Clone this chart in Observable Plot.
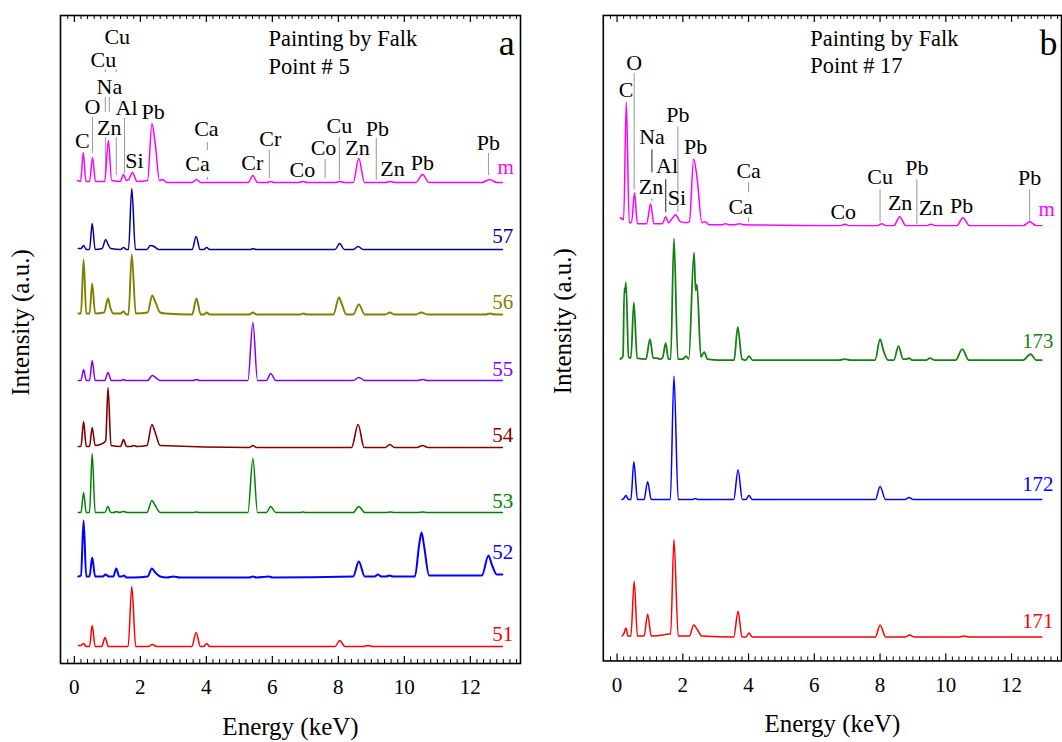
<!DOCTYPE html>
<html><head><meta charset="utf-8">
<script src="https://cdn.jsdelivr.net/npm/d3@7"></script>
<script src="https://cdn.jsdelivr.net/npm/@observablehq/plot@0.6"></script>
<style>
body{margin:0;background:#fff;}
#wrap{position:relative;width:1062px;height:742px;overflow:hidden;background:#fff;}
#pa,#pb{position:absolute;top:0;}
#pa{left:0;} #pb{left:543px;}
</style></head><body><div id="wrap"><div id="pa"></div><div id="pb"></div></div>
<script>
// ---------------- data: panel a (Point # 5) ----------------
const namesA = ["m","57","56","55","54","53","52","51"];
const offsetsA = [480,414,348,282,216,150,85,17];
const specA_m = [[0.10,3],[0.19,2],[0.27,31],[0.35,2],[0.46,2],[0.55,26],[0.64,2],[0.92,2],[1.03,43],[1.13,3],[1.39,2],[1.49,9],[1.58,3],[1.65,4],[1.76,11],[1.9,2],[2.22,3],[2.35,60],[2.45,40],[2.58,3],[2.68,4],[2.8,1],[3.57,1],[3.70,4],[3.83,1],[5.27,1],[5.41,8],[5.55,1],[5.84,1],[5.95,2],[6.06,1],[6.8,1],[6.93,2],[7.06,1],[7.92,1],[8.05,2],[8.18,1],[8.45,1],[8.62,25],[8.79,1],[9.42,1],[9.57,2],[9.72,1],[10.35,1],[10.55,9],[10.75,1],[12.36,1],[12.58,4],[12.8,1],[12.97,1]];
const specA_57 = [[0.12,1],[0.2,1],[0.28,4],[0.36,0],[0.46,0],[0.54,26],[0.63,0],[0.84,1],[0.95,10],[1.01,6],[1.1,1],[1.4,0],[1.49,2],[1.58,0],[1.64,0],[1.74,61],[1.85,0],[2.2,0],[2.3,4],[2.42,3],[2.55,0],[3.57,0],[3.69,13],[3.81,0],[3.92,0],[4.01,2],[4.1,0],[5.35,0],[5.42,1],[5.5,0],[7.9,0],[8.04,6],[8.18,0],[8.45,0],[8.6,3],[8.75,0],[12.97,0]];
const specA_56 = [[0.12,2],[0.2,2],[0.28,56],[0.36,2],[0.46,2],[0.54,32],[0.63,2],[0.9,3],[1.02,17],[1.08,9],[1.18,2],[1.4,2],[1.49,4],[1.58,1],[1.64,1],[1.74,61],[1.86,2],[2.22,3],[2.36,20],[2.46,13],[2.6,3],[2.75,2],[3.57,1],[3.70,17],[3.83,1],[3.93,1],[4.01,3],[4.1,1],[5.3,1],[5.41,3],[5.52,1],[6.85,1],[6.93,2],[7.05,1],[7.85,1],[8.02,18],[8.1,12],[8.24,1],[8.45,1],[8.62,11],[8.8,1],[9.42,1],[9.56,3],[9.7,1],[10.35,1],[10.52,3],[10.7,1],[12.45,1],[12.6,2],[12.75,1],[12.97,1]];
const specA_55 = [[0.12,1],[0.2,1],[0.28,12],[0.36,1],[0.46,1],[0.54,21],[0.63,1],[0.92,1],[1.02,9],[1.12,1],[1.42,1],[1.49,2],[1.56,1],[2.22,1],[2.36,6],[2.46,4],[2.6,1],[3.6,1],[3.7,2],[3.8,1],[5.26,1],[5.41,59],[5.55,1],[5.82,1],[5.95,8],[6.1,1],[8.45,1],[8.62,4],[8.8,1],[10.4,1],[10.55,2],[10.7,1],[12.97,1]];
const specA_54 = [[0.12,1],[0.2,1],[0.28,26],[0.36,1],[0.46,1],[0.54,20],[0.63,2],[0.78,3],[0.9,5],[0.95,7],[1.02,60],[1.11,2],[1.4,1],[1.49,8],[1.58,1],[1.7,1],[1.8,2],[1.9,1],[2.2,2],[2.35,23],[2.45,15],[2.6,2],[5.3,0],[5.41,2],[5.52,0],[8.4,0],[8.6,23],[8.78,0],[9.42,0],[9.56,3],[9.7,0],[10.38,0],[10.55,2],[10.72,0],[12.97,0]];
const specA_53 = [[0.12,1],[0.2,1],[0.28,21],[0.36,1],[0.46,1],[0.54,60],[0.63,1],[0.92,1],[1.02,7],[1.1,1],[1.2,1],[1.27,2],[1.35,1],[1.5,2],[1.6,1],[2.2,1],[2.35,13],[2.45,8],[2.6,1],[3.6,1],[3.7,1.5],[3.8,1],[5.26,1],[5.41,55],[5.55,1],[5.82,1],[5.95,7],[6.1,1],[6.85,1],[6.93,1.5],[7.0,1],[8.45,1],[8.62,7],[8.8,1],[9.45,1],[9.57,1.5],[9.7,1],[10.4,1],[10.55,1.5],[10.7,1],[12.97,1]];
const specA_52 = [[0.12,2],[0.2,3],[0.28,58],[0.36,2],[0.46,2],[0.54,21],[0.63,2],[0.86,2],[0.95,4],[1.04,2],[1.18,2],[1.27,10],[1.36,2],[1.44,2],[1.5,3],[1.58,1],[1.7,1],[1.8,1],[2.22,2],[2.35,10],[2.45,6],[2.6,2],[2.8,1],[3.0,2],[3.2,1],[5.3,1],[5.41,2],[5.52,1],[5.9,2],[6.0,1],[8.45,2],[8.62,17],[8.8,2],[9.1,2],[9.2,4],[9.3,2],[9.45,2],[9.55,3],[9.65,2],[10.32,2],[10.45,34],[10.52,46],[10.6,32],[10.75,3],[12.35,3],[12.55,23],[12.65,14],[12.8,4],[12.97,4]];
const specA_51 = [[0.12,1],[0.2,1],[0.28,3],[0.36,0],[0.46,0],[0.54,21],[0.63,0],[0.83,0],[0.93,9],[1.03,0],[1.63,0],[1.74,60],[1.86,0],[2.25,0],[2.36,2],[2.5,0],[3.56,0],[3.69,14],[3.82,0],[3.92,0],[4.01,3],[4.1,0],[7.9,0],[8.04,6],[8.2,0],[8.76,0],[8.9,1],[9.04,0],[12.97,0]];
// element labels: [text, energy (keV), intensity]
const elementsA = [["C",0.24,523],["O",0.55,557],["Zn",1.06,536],["Na",1.06,577],["Cu",0.88,604],["Cu",1.30,627],["Al",1.58,556],["Si",1.82,503],["Pb",2.39,552],["Ca",4.0,535],["Ca",3.73,500],["Cr",5.94,525],["Cr",5.39,501],["Co",7.55,516],["Co",6.91,494],["Cu",8.03,538],["Zn",8.58,516],["Pb",9.18,535],["Zn",9.64,495],["Pb",10.55,501],["Pb",12.55,521]];
// line markers: [energy, from, to]
const markersA = [[0.55,510,546],[0.94,488,526],[1.27,488,526],[0.94,551,566],[1.06,551,566],[0.94,591,594],[1.27,591,594],[1.52,490,545],[4.03,513,521],[4.03,483,486],[5.91,485,513],[7.6,485,504],[8.03,483,526],[9.15,483,525],[12.55,488,510]];
const seriesLabelsA = [["m",13.07,496],["57",12.98,427],["56",12.98,361],["55",12.98,294],["54",12.98,228],["53",12.98,162],["52",12.98,111],["51",12.98,29]];
const titleA = [["Painting by Falk",5.88,625],["Point # 5",5.88,597]];
const letterA = [["a",13.1,620]];

// ---------------- data: panel b (Point # 17) ----------------
const namesB = ["m","173","172","171"];
const offsetsB = [437,300,162,24];
const specB_m = [[0.10,8],[0.2,6],[0.28,124],[0.37,3],[0.44,3],[0.53,33],[0.62,2],[0.9,2],[1.02,22],[1.12,2],[1.38,2],[1.48,9],[1.57,3],[1.65,6],[1.78,11],[1.92,4],[2.1,3],[2.2,4],[2.33,67],[2.44,46],[2.58,3],[2.68,4],[2.8,1],[3.2,1],[3.3,2],[3.4,1],[3.6,1],[3.72,2],[3.85,1],[6.8,0],[6.93,1.5],[7.06,0],[7.92,0],[8.05,2],[8.18,0],[8.42,0],[8.6,9],[8.78,0],[9.42,0],[9.55,1.5],[9.68,0],[10.34,0],[10.52,8],[10.72,0],[12.36,0],[12.55,4],[12.75,0],[12.92,0]];
const specB_173 = [[0.10,3],[0.18,6],[0.22,74],[0.24,70],[0.27,80],[0.35,5],[0.42,4],[0.51,60],[0.61,4],[0.88,3],[1.0,23],[1.1,4],[1.22,4],[1.3,3],[1.38,4],[1.48,19],[1.56,3],[1.63,3],[1.73,124],[1.85,3],[2.0,3],[2.1,6],[2.18,3],[2.34,110],[2.39,72],[2.43,78],[2.55,5],[2.65,10],[2.75,3],[3.1,2],[3.56,2],[3.67,35],[3.8,3],[3.92,2],[4.01,6],[4.12,2],[6.75,2],[6.93,3],[7.1,2],[7.85,2],[8.0,23],[8.1,12],[8.24,2],[8.42,2],[8.56,16],[8.7,3],[8.8,3],[8.88,4],[8.98,2],[9.4,2],[9.52,4],[9.65,2],[10.3,2],[10.5,13],[10.7,2],[12.35,2],[12.58,8],[12.75,2],[12.92,2]];
const specB_172 = [[0.15,0],[0.2,1],[0.27,4],[0.35,0],[0.42,0],[0.51,38],[0.62,0],[0.82,0],[0.93,18],[1.04,0],[1.62,0],[1.73,124],[1.86,0],[2.28,0],[2.38,1],[2.48,0],[3.55,0],[3.68,30],[3.81,0],[3.92,0],[4.01,4],[4.12,0],[7.86,0],[8.0,13],[8.17,0],[8.75,0],[8.88,2],[9.02,0],[12.92,0]];
const specB_171 = [[0.15,1],[0.2,3],[0.27,9],[0.33,1],[0.42,1],[0.52,56],[0.62,1],[0.82,1],[0.93,23],[1.04,1],[1.4,2],[1.55,3],[1.63,3],[1.73,98],[1.86,1],[2.2,1],[2.33,12],[2.45,7],[2.58,1],[3.55,0],[3.68,26],[3.8,0],[3.92,0],[4.01,4],[4.12,0],[7.86,0],[8.0,12],[8.17,0],[8.75,0],[8.9,2],[9.05,0],[10.4,0],[10.55,1],[10.7,0],[12.92,0]];
const elementsB = [["C",0.27,573],["O",0.52,600],["Na",1.06,526],["Al",1.52,497],["Zn",1.03,476],["Si",1.82,465],["Pb",1.85,548],["Pb",2.39,516],["Ca",4.0,492],["Ca",3.76,456],["Co",6.88,451],["Cu",8.0,486],["Zn",8.61,460],["Pb",9.12,495],["Zn",9.55,455],["Pb",10.48,457],["Pb",12.55,485]];
const markersB = [[0.52,473,590],[1.06,461,464],[1.85,450,536],[4.0,470,480],[4.0,440,445],[8.0,441,473],[9.12,438,483],[12.55,441,473]];
const markersBDark = [[1.06,490,513],[1.48,450,483]];
const seriesLabelsB = [["m",13.07,453],["173",12.8,321],["172",12.8,177],["171",12.8,40]];
const titleB = [["Painting by Falk",5.88,625],["Point # 17",5.88,597]];
const letterB = [["b",13.12,620]];

const energyTicks = [0,2,4,6,8,10,12];
const minorTicks = d3.range(-1, 68).map(i => i / 5).filter(v => Math.abs(v / 2 - Math.round(v / 2)) > 1e-6);

const FONT = '"Liberation Serif", "Times New Roman", Times, serif';

function makePanel({names, colors, widths, offsets, spectra, elements, markers, markersDark, seriesLabels, title, letter}) {
  const rows = [];
  names.forEach((n, i) => spectra[i].forEach(([e, h]) => rows.push({name: n, e, y: offsets[i] + h})));
  const lineMarks = names.map((n, i) => Plot.line(rows.filter(r => r.name === n), {
    x: "e", y: "y", stroke: "name", strokeWidth: widths[i], curve: "monotone-x", strokeLinejoin: "round"
  }));
  return Plot.plot({
    width: 521, height: 742,
    marginLeft: 60, marginRight: 1, marginTop: 15, marginBottom: 79,
    x: {domain: [-0.42, 13.52], axis: null},
    y: {domain: [0, 648], axis: null},
    color: {domain: names, range: colors},
    style: {fontFamily: FONT, background: "transparent", overflow: "visible"},
    marks: [
      Plot.ruleX(markers, {x: d => d[0], y1: d => d[1], y2: d => d[2], stroke: "#a0a0a0", strokeWidth: 1.1}),
      Plot.ruleX(markersDark, {x: d => d[0], y1: d => d[1], y2: d => d[2], stroke: "#333", strokeWidth: 1.1}),
      ...lineMarks,
      Plot.text(elements, {x: d => d[1], y: d => d[2], text: d => d[0], fontSize: 22, fontFamily: FONT, fill: "black"}),
      Plot.text(seriesLabels, {x: d => d[1], y: d => d[2], text: d => d[0], fill: d => d[0], fontSize: 21, fontFamily: FONT}),
      Plot.text(title, {x: d => d[1], y: d => d[2], text: d => d[0], textAnchor: "start", fontSize: 22.5, fontFamily: FONT, fill: "black"}),
      Plot.text(letter, {x: d => d[1], y: d => d[2], text: d => d[0], fontSize: 36, fontFamily: FONT, fill: "black"}),
      Plot.ruleX(energyTicks, {x: d => d, insetTop: 641, stroke: "black", strokeWidth: 1.2}),
      Plot.ruleX(energyTicks, {x: d => d, insetBottom: 641, stroke: "black", strokeWidth: 1.2}),
      Plot.ruleX(minorTicks, {x: d => d, insetTop: 644, stroke: "black", strokeWidth: 1}),
      Plot.ruleX(minorTicks, {x: d => d, insetBottom: 644, stroke: "black", strokeWidth: 1}),
      Plot.frame({stroke: "black", strokeWidth: 1.6}),
      Plot.text(energyTicks, {x: d => d, text: d => String(d), frameAnchor: "bottom", lineAnchor: "middle", dy: 24, fontSize: 21, fontFamily: FONT, fill: "black"}),
      Plot.text(["Energy (keV)"], {text: d => d, frameAnchor: "bottom", lineAnchor: "middle", textAnchor: "middle", dy: 63, fontSize: 25, fontFamily: FONT, fill: "black"}),
      Plot.text(["Intensity (a.u.)"], {text: d => d, frameAnchor: "left", textAnchor: "middle", lineAnchor: "middle", rotate: -90, dx: -40, dy: -17, fontSize: 25, fontFamily: FONT, fill: "black"})
    ]
  });
}

document.getElementById("pa").appendChild(makePanel({
  names: namesA,
  colors: ["#ff00ff","#000099","#808000","#8000ff","#800000","#008000","#0000ff","#ff0000"],
  widths: [1.5,1.5,1.9,1.5,1.6,1.5,2.0,1.5],
  offsets: offsetsA,
  spectra: [specA_m, specA_57, specA_56, specA_55, specA_54, specA_53, specA_52, specA_51],
  elements: elementsA, markers: markersA, markersDark: [],
  seriesLabels: seriesLabelsA, title: titleA, letter: letterA
}));
document.getElementById("pb").appendChild(makePanel({
  names: namesB,
  colors: ["#ff00ff","#138013","#0000ff","#ff0000"],
  widths: [1.5,1.8,1.5,1.5],
  offsets: offsetsB,
  spectra: [specB_m, specB_173, specB_172, specB_171],
  elements: elementsB, markers: markersB, markersDark: markersBDark,
  seriesLabels: seriesLabelsB, title: titleB, letter: letterB
}));
</script></body></html>
